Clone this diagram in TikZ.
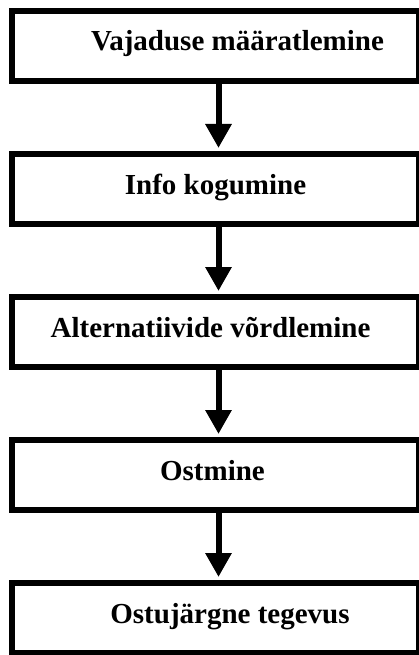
\documentclass[tikz,border=0pt]{standalone}
\usepackage{fontspec}
\setmainfont{Liberation Serif}
\usetikzlibrary{arrows.meta, positioning}

\begin{document}
\begin{tikzpicture}[
        node distance=67pt,
        box/.style={rectangle, draw=black, line width=6pt, fill=white, minimum width=407pt, minimum height=70pt, text height=20pt, text depth=10pt, inner sep=0pt, font=\fontsize{29}{34}\selectfont\bfseries},
        arrow/.style={-{Triangle[width=25pt, length=24pt]}, line width=6pt, draw=black, shorten >=3pt}
    ]
    \useasboundingbox (0pt,0pt) rectangle (419pt,-655pt);
    \node[box] (need) at (215.5pt,-46pt) {\hspace*{44pt}Vajaduse määratlemine};
    \node[box, below=of need] (info) {Info kogumine};
    \node[box, below=of info] (compare) {Alternatiivide võrdlemine\hspace*{10pt}};
    \node[box, below=of compare] (buy) {Ostmine\hspace*{6pt}};
    \node[box, below=of buy] (after) {\hspace*{29pt}Ostujärgne tegevus};

    \draw[arrow] ([xshift=3pt]need.south) -- ([xshift=3pt]info.north);
    \draw[arrow] ([xshift=3pt]info.south) -- ([xshift=3pt]compare.north);
    \draw[arrow] ([xshift=3pt]compare.south) -- ([xshift=3pt]buy.north);
    \draw[arrow] ([xshift=3pt]buy.south) -- ([xshift=3pt]after.north);
\end{tikzpicture}
\end{document}
